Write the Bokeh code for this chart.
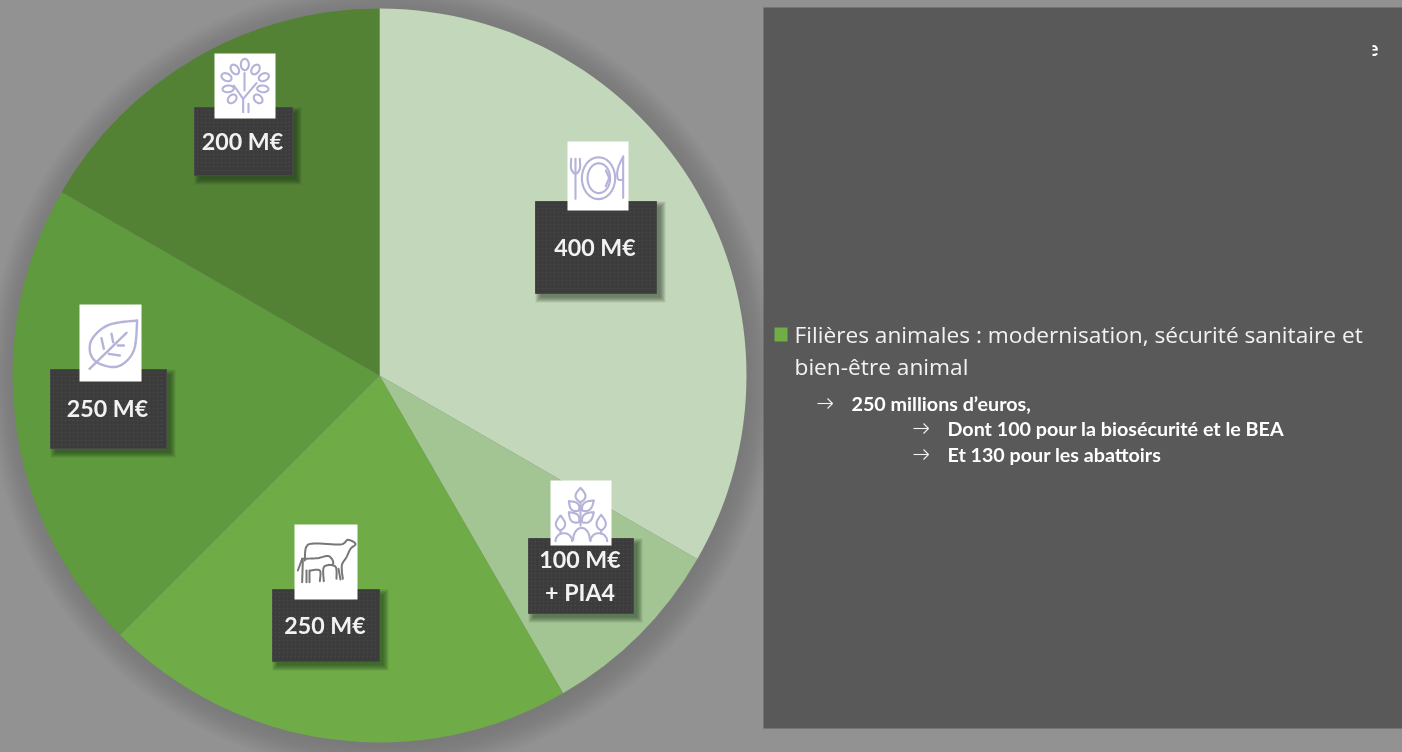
import numpy as np
from bokeh.plotting import figure
from bokeh.models import Range1d
from bokeh.core.properties import value
from bokeh.embed import file_html
from bokeh.resources import INLINE

# ---- data ----
categories = ["Alimentation", "Plantes", "Filières animales", "Forêt / agroécologie", "Forêt"]
amounts = [400, 100, 250, 250, 200]
slice_colors = ["#c3d7ba", "#a3c594", "#6fab47", "#5f9a3e", "#548235"]
value_labels = [["400 M€"], ["100 M€", "+ PIA4"], ["250 M€"], ["250 M€"], ["200 M€"]]
heading_lines = ["Filières animales : modernisation, sécurité sanitaire et", "bien-être animal"]
detail_lines = ["250 millions d’euros,", "Dont 100 pour la biosécurité et le BEA", "Et 130 pour les abattoirs"]

W, H = 1404, 754
Y = lambda py: H - py

p = figure(width=W, height=H, x_range=Range1d(0, W), y_range=Range1d(0, H),
           x_axis_type=None, y_axis_type=None, toolbar_location=None,
           output_backend="svg", min_border=0, outline_line_color=None,
           background_fill_color="#929292", border_fill_color="#929292")
p.grid.visible = False
p.styles = {"position": "fixed", "left": "-1px", "top": "-1px"}

CX, CY, R = 380, 376, 367

# soft shadow around the pie
for k in range(15):
    p.circle(x=[CX + 3], y=[Y(CY + 3)], radius=R + 28 - k * 2.0, fill_color="#000000",
             fill_alpha=0.0095, line_color=None)

# pie: clockwise from the top
fr = np.cumsum([0] + amounts) / sum(amounts)
starts = np.pi / 2 - 2 * np.pi * fr[1:]
ends = np.pi / 2 - 2 * np.pi * fr[:-1]
p.wedge(x=CX, y=Y(CY), radius=R, start_angle=starts, end_angle=ends,
        fill_color=slice_colors, line_color=None)

# right panel
p.quad(left=764, right=W, top=Y(8), bottom=Y(729), fill_color="#595959", line_color=None)

# clipped letter at the top right of the panel
p.text(x=[1379], y=[Y(49)], text=["e"], text_color="#ffffff", text_font=value("Lato"),
       text_font_style="bold", text_font_size="20px", text_align="right", text_baseline="alphabetic")
p.quad(left=1360, right=1373, top=Y(38), bottom=Y(60), fill_color="#595959", line_color=None)

# bullet
p.quad(left=775, right=788, top=Y(328), bottom=Y(342), fill_color="#70ad47", line_color=None)

for t, py in zip(heading_lines, [335, 367]):
    p.text(x=[795], y=[Y(py)], text=[t], text_color="#f2f2f2", text_font=value("Open Sans"),
           text_font_size="22.7px", text_baseline="alphabetic")
for t, tx, py in zip(detail_lines, [852, 948, 948], [404, 429, 455]):
    p.text(x=[tx], y=[Y(py)], text=[t], text_color="#ffffff", text_font=value("Lato"),
           text_font_style="bold", text_font_size="19.7px", text_baseline="alphabetic")
for ax, py in zip([818, 914, 914], [404, 429, 455]):
    p.line([ax, ax + 15], [Y(py), Y(py)], line_color="#f2f2f2", line_width=1.1)
    p.line([ax + 10, ax + 15, ax + 10], [Y(py - 5), Y(py), Y(py + 5)], line_color="#f2f2f2", line_width=1.1)

# label boxes: left, right, top, bottom
boxes = [(536, 657, 202, 294), (529, 634, 539, 614), (273, 380, 590, 662), (51, 167, 370, 449), (195, 293, 108, 176)]
icon_boxes = [(568, 629, 142, 211), (551, 612, 481, 546), (295, 358, 525, 600), (80, 142, 305, 382), (215, 276, 54, 119)]
text_y = [[247], [559, 592], [625], [408], [141]]

for (l, r, t, b), (il, ir, it, ib), lines, tys in zip(boxes, icon_boxes, value_labels, text_y):
    for k in range(6):
        d = 5 - k
        p.quad(left=l + 5 - d, right=r + 4 + d, top=Y(t + 5 - d), bottom=Y(b + 4 + d),
               fill_color="#18240f", fill_alpha=0.1, line_color=None)
    p.quad(left=l, right=r, top=Y(t), bottom=Y(b), fill_color="#3c3c3c", line_color="#484848", line_width=1)
    gx, gy = np.meshgrid(np.arange(l + 3, r - 1, 4.0), np.arange(t + 3, b - 1, 4.0))
    p.scatter(gx.ravel(), Y(gy.ravel()), size=1.6, marker="circle", fill_color="#4b4b4b", line_color=None)
    p.quad(left=il, right=ir, top=Y(it), bottom=Y(ib), fill_color="#ffffff", line_color=None)
    for s, ty in zip(lines, tys):
        p.text(x=[(l + r) / 2 - 1], y=[Y(ty)], text=[s], text_color="#f2f2f2", text_font=value("Lato"),
               text_font_style="bold", text_font_size="23.2px", text_align="center", text_baseline="alphabetic")


# ---- icons: small line drawings, given in 3x crop coordinates ----
def smooth(pts, n=8):
    a = np.array(pts, dtype=float)
    if len(a) < 3:
        return a
    a2 = np.vstack([a[0], a, a[-1]])
    out = []
    for i in range(1, len(a2) - 2):
        p0, p1, p2, p3 = a2[i - 1], a2[i], a2[i + 1], a2[i + 2]
        for t in np.linspace(0, 1, n, endpoint=False):
            out.append(0.5 * ((2 * p1) + (p2 - p0) * t + (2 * p0 - 5 * p1 + 4 * p2 - p3) * t * t
                              + (3 * p1 - p0 - 3 * p2 + p3) * t ** 3))
    out.append(a[-1])
    return np.array(out)


def draw(ox, oy, paths, color="#b4b3d9", lw=2.1, curved=True):
    xs, ys = [], []
    for q in paths:
        a = smooth(q) if curved else np.array(q, dtype=float)
        xs.append(list(ox + 1 + a[:, 0] / 3))
        ys.append(list(Y(oy + 1 + a[:, 1] / 3)))
    p.multi_line(xs, ys, line_color=color, line_width=lw, line_join="round", line_cap="round")


def leaf(bx, by, tx, ty, w):
    b, t = np.array([bx, by], float), np.array([tx, ty], float)
    d = t - b
    nrm = np.array([-d[1], d[0]]) / np.hypot(*d)
    u = np.linspace(0, 1, 16)
    prof = w * np.sin(np.pi * u ** 0.8)
    side1 = [tuple(b + s * d + nrm * q) for s, q in zip(u, prof)]
    side2 = [tuple(b + s * d - nrm * q) for s, q in zip(u[::-1], prof[::-1])]
    return side1 + side2


def ell(x0, y0, rx, ry, deg):
    th = np.linspace(0, 2 * np.pi, 30)
    c, s = np.cos(np.radians(deg)), np.sin(np.radians(deg))
    ex, ey = rx * np.cos(th), ry * np.sin(th)
    return list(zip(x0 + ex * c - ey * s, y0 + ex * s + ey * c))


def mound(x0, x1, base, top):
    th = np.linspace(np.pi, 0, 16)
    return list(zip((x0 + x1) / 2 + (x1 - x0) / 2 * np.cos(th), base - (base - top) * np.sin(th)))


# plate
draw(500, 120, [ell(294, 173, 50, 63, 0), ell(295, 173, 34, 45, 0),
                [(316, 150), (326, 172), (316, 197)]], curved=False)
draw(500, 120, [[(225, 115), (225, 235)], [(368, 108), (368, 232)]], curved=False)
draw(500, 120, [[(212, 115), (212, 145), (225, 160), (238, 145), (238, 115)],
                [(368, 108), (352, 145), (352, 175), (368, 178)]])
# tree
draw(180, 40, [ell(193, 72, 12, 17, 0), ell(163, 87, 11, 16, -35), ell(225, 87, 11, 16, 35),
               ell(138, 110, 11, 16, -65), ell(250, 110, 11, 16, 65), ell(143, 145, 10, 17, 85),
               ell(247, 145, 10, 17, -85), ell(155, 175, 11, 15, 45), ell(233, 175, 11, 15, -45)], curved=False)
draw(180, 40, [[(188, 215), (188, 175), (160, 135)], [(188, 175), (228, 128)], [(192, 98), (192, 150)],
               [(204, 190), (204, 215)]], curved=False)
# sprout
draw(510, 470, [leaf(210, 95, 210, 52, 15), leaf(205, 120, 175, 92, 13), leaf(215, 120, 250, 90, 13),
                leaf(205, 155, 175, 125, 13), leaf(215, 155, 250, 125, 13),
                leaf(150, 180, 150, 135, 14), leaf(272, 180, 272, 133, 14),
                mound(135, 185, 212, 188), mound(188, 238, 208, 172), mound(240, 290, 212, 188),
                [(210, 95), (210, 165)], [(150, 180), (150, 190)], [(272, 180), (272, 190)]], curved=False)
# leaf
draw(40, 295, [[(290, 75), (205, 88), (155, 130), (150, 175), (178, 205), (235, 212), (280, 165), (290, 75)]], lw=2.4)
draw(40, 295, [[(147, 220), (258, 112)], [(183, 128), (190, 160)], [(213, 115), (218, 140)],
               [(205, 175), (238, 180)], [(232, 150), (250, 150)]], lw=2.4, curved=False)
# cow and calf
draw(260, 515, [[(133, 135), (137, 95), (160, 84), (240, 87), (262, 73), (285, 85), (270, 100), (258, 125),
                 (244, 150), (247, 190)],
                [(228, 190), (226, 155), (205, 148)],
                [(240, 192), (234, 160)],
                [(125, 130), (170, 128), (205, 122), (218, 145), (190, 155), (190, 197)],
                [(125, 130), (112, 165)], [(127, 135), (125, 200)], [(138, 165), (138, 200)],
                [(150, 165), (178, 165), (178, 197)], [(147, 165), (147, 200)]],
     color="#777777", lw=2.0)

open("out.html", "w").write(file_html(p, INLINE))
